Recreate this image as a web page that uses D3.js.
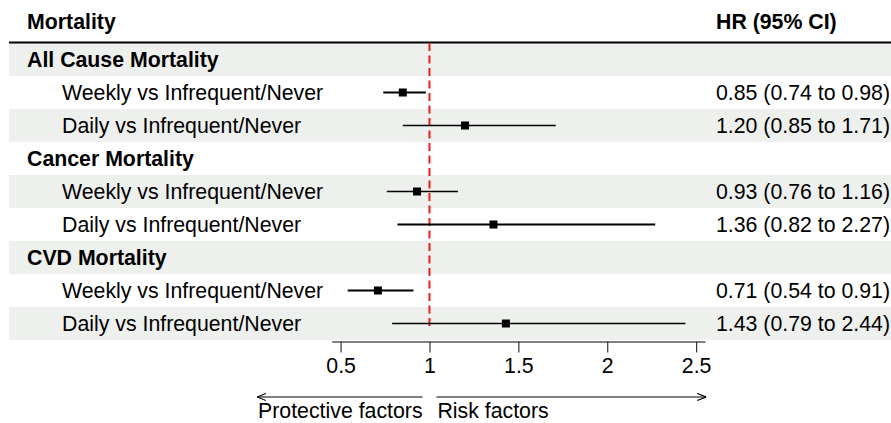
<!DOCTYPE html>
<html>
<head>
<meta charset="utf-8">
<script src="https://cdn.jsdelivr.net/npm/d3@7"></script>
<style>
  html, body { margin: 0; padding: 0; background: #fff; }
  svg { display: block; font-family: "Liberation Sans", Arial, Helvetica, sans-serif; }
</style>
</head>
<body>
<svg id="chart" width="891" height="423"></svg>
<script>
// ---- data ----
const rowLabels = ["All Cause Mortality", "Weekly vs Infrequent/Never", "Daily vs Infrequent/Never",
                   "Cancer Mortality", "Weekly vs Infrequent/Never", "Daily vs Infrequent/Never",
                   "CVD Mortality", "Weekly vs Infrequent/Never", "Daily vs Infrequent/Never"];
const isGroup = [true, false, false, true, false, false, true, false, false];
const hr    = [null, 0.85, 1.20, null, 0.93, 1.36, null, 0.71, 1.43];
const lower = [null, 0.74, 0.85, null, 0.76, 0.82, null, 0.54, 0.79];
const upper = [null, 0.98, 1.71, null, 1.16, 2.27, null, 0.91, 2.44];
const hrText = ["", "0.85 (0.74 to 0.98)", "1.20 (0.85 to 1.71)",
                "", "0.93 (0.76 to 1.16)", "1.36 (0.82 to 2.27)",
                "", "0.71 (0.54 to 0.91)", "1.43 (0.79 to 2.44)"];
const lineW = [0, 1.8, 1.3, 0, 1.6, 1.9, 0, 1.9, 1.3];
const tickValues = [0.5, 1, 1.5, 2, 2.5];
const headerLeft = "Mortality";
const headerRight = "HR (95% CI)";
const arrowLeftLabel = "Protective factors";
const arrowRightLabel = "Risk factors";

// ---- layout ----
const svg = d3.select("#chart");
const rowTop = 43, rowH = 33;
const fs = 21.3;
const x = d3.scaleLinear().domain([0.45, 2.55]).range([331.7, 705]);
const y = d3.scaleBand().domain(d3.range(rowLabels.length))
  .range([rowTop, rowTop + rowH * rowLabels.length]).padding(0);

// backgrounds
svg.append("g").selectAll("rect").data(rowLabels).join("rect")
  .attr("x", 9).attr("width", 891 - 9)
  .attr("y", (d, i) => y(i)).attr("height", y.bandwidth())
  .attr("fill", (d, i) => i % 2 === 0 ? "#eef0ee" : "#ffffff");

// header
svg.append("text").attr("x", 27).attr("y", 22).attr("dy", "0.35em")
  .attr("font-size", fs).attr("font-weight", "bold").text(headerLeft);
svg.append("text").attr("x", 716).attr("y", 22).attr("dy", "0.35em")
  .attr("font-size", fs).attr("font-weight", "bold").text(headerRight);
svg.append("line").attr("x1", 9).attr("x2", 891).attr("y1", 42.5).attr("y2", 42.5)
  .attr("stroke", "#000").attr("stroke-width", 2.2);

// labels
svg.append("g").selectAll("text").data(rowLabels).join("text")
  .attr("x", (d, i) => isGroup[i] ? 27 : 62)
  .attr("y", (d, i) => y(i) + y.bandwidth() / 2).attr("dy", "0.35em")
  .attr("font-size", fs).attr("font-weight", (d, i) => isGroup[i] ? "bold" : "normal")
  .attr("fill", "#000").text(d => d);

svg.append("g").selectAll("text").data(hrText).join("text")
  .attr("x", 716)
  .attr("y", (d, i) => y(i) + y.bandwidth() / 2).attr("dy", "0.35em")
  .attr("font-size", fs).attr("fill", "#000").text(d => d);

// reference line
svg.append("line").attr("x1", x(1)).attr("x2", x(1))
  .attr("y1", rowTop).attr("y2", rowTop + rowH * rowLabels.length - 10)
  .attr("stroke", "#ee1c1c").attr("stroke-width", 2).attr("stroke-dasharray", "8,4.5");

// CI lines and boxes
const idx = d3.range(rowLabels.length).filter(i => hr[i] !== null);
svg.append("g").selectAll("line").data(idx).join("line")
  .attr("x1", i => x(lower[i])).attr("x2", i => x(upper[i]))
  .attr("y1", i => y(i) + y.bandwidth() / 2).attr("y2", i => y(i) + y.bandwidth() / 2)
  .attr("stroke", "#000").attr("stroke-width", i => lineW[i]);
const box = 8;
svg.append("g").selectAll("rect").data(idx).join("rect")
  .attr("x", i => x(hr[i]) - box / 2).attr("y", i => y(i) + y.bandwidth() / 2 - box / 2)
  .attr("width", box).attr("height", box).attr("fill", "#000");

// axis
const axisY = rowTop + rowH * rowLabels.length + 1.5;
const axis = d3.axisBottom(x).tickValues(tickValues).tickFormat(d3.format("~g"))
  .tickSize(11).tickPadding(5).tickSizeOuter(0);
const ag = svg.append("g").attr("transform", `translate(0,${axisY})`).call(axis);
ag.select(".domain").attr("stroke", "#000").attr("stroke-width", 1.2);
ag.selectAll(".tick line").attr("stroke", "#333").attr("stroke-width", 1.2);
ag.selectAll(".tick text").attr("font-size", fs).attr("fill", "#000")
  .attr("font-family", "Liberation Sans, Arial, sans-serif");

// arrows
const defs = svg.append("defs");
defs.append("marker").attr("id", "arr").attr("viewBox", "0 0 10 10")
  .attr("refX", 10).attr("refY", 5).attr("markerWidth", 9).attr("markerHeight", 9)
  .attr("markerUnits", "userSpaceOnUse").attr("orient", "auto")
  .append("path").attr("d", "M0,1 L10,5 L0,9").attr("fill", "none")
  .attr("stroke", "#000").attr("stroke-width", 1.2);
const arrowY = 397;
svg.append("line").attr("x1", x(1) - 7).attr("x2", x(0.03)).attr("y1", arrowY).attr("y2", arrowY)
  .attr("stroke", "#000").attr("stroke-width", 1).attr("marker-end", "url(#arr)");
svg.append("line").attr("x1", x(1) + 7).attr("x2", x(2.557)).attr("y1", arrowY).attr("y2", arrowY)
  .attr("stroke", "#000").attr("stroke-width", 1).attr("marker-end", "url(#arr)");
svg.append("text").attr("x", x(0.03) + 1).attr("y", 418).attr("font-size", fs).text(arrowLeftLabel);
svg.append("text").attr("x", x(1) + 8).attr("y", 418).attr("font-size", fs).text(arrowRightLabel);
</script>
</body>
</html>
